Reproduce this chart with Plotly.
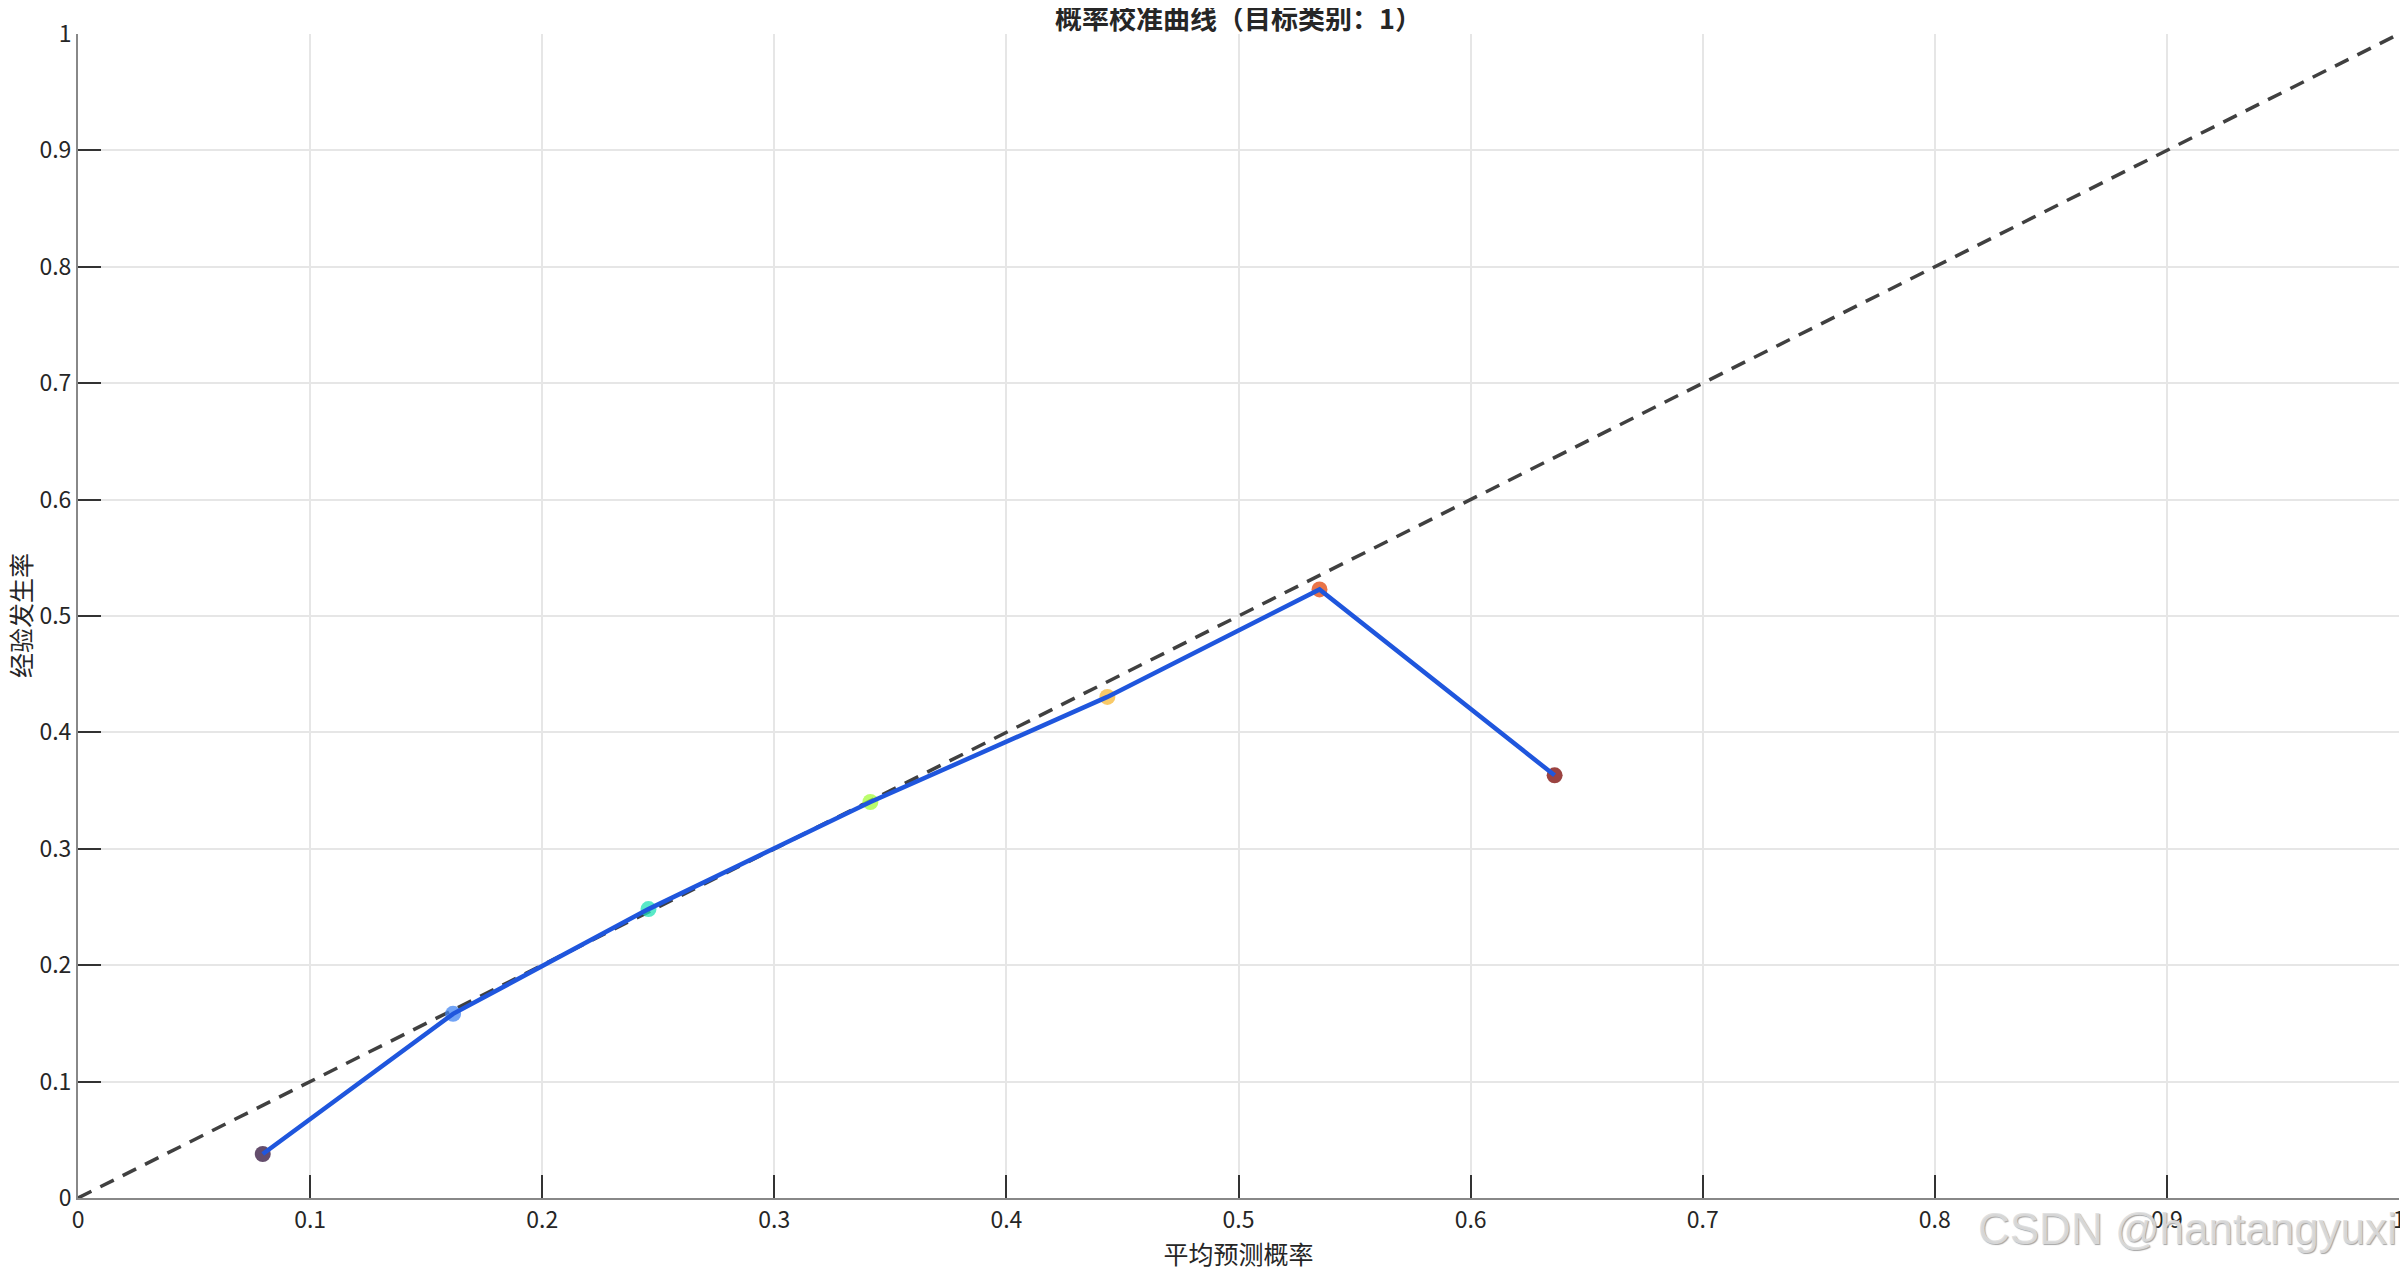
import plotly.graph_objects as go

# 校准曲线数据（分箱后的平均预测概率 / 经验发生率）
mean_pred = [0.0796, 0.1616, 0.2458, 0.3414, 0.4435, 0.5349, 0.6362]
frac_pos = [0.0378, 0.1582, 0.2482, 0.3402, 0.4305, 0.5228, 0.3631]
bin_idx = [0, 1, 2, 3, 4, 5, 6]

# 完美校准参考线
ref_x = [0, 1]
ref_y = [0, 1]

tick_vals = [0, 0.1, 0.2, 0.3, 0.4, 0.5, 0.6, 0.7, 0.8, 0.9, 1]
tick_text = ["0", "0.1", "0.2", "0.3", "0.4", "0.5", "0.6", "0.7", "0.8", "0.9", "1"]

FONT = "Noto Sans CJK SC"

fig = go.Figure()

# 参考虚线
fig.add_trace(go.Scatter(
    x=ref_x, y=ref_y,
    mode="lines",
    line=dict(color="#404040", width=3.5, dash="15px,10px"),
    showlegend=False,
))

# 散点（按箱序号着色）
fig.add_trace(go.Scatter(
    x=mean_pred, y=frac_pos,
    mode="markers",
    marker=dict(size=16, color=bin_idx, colorscale="Turbo", opacity=0.75),
    showlegend=False,
))

# 校准曲线
fig.add_trace(go.Scatter(
    x=mean_pred, y=frac_pos,
    mode="lines",
    line=dict(color="#1f56dd", width=4.5),
    showlegend=False,
))

axis_common = dict(
    range=[0, 1],
    tickvals=tick_vals,
    ticktext=tick_text,
    ticks="inside",
    ticklen=23,
    tickwidth=1.5,
    tickcolor="#333333",
    showgrid=True,
    gridcolor="#e6e6e6",
    gridwidth=1.5,
    zeroline=False,
    showline=True,
    linecolor="#888888",
    linewidth=2,
    ticklabeloverflow="allow",
    tickfont=dict(family=FONT, size=23, color="#262626"),
)

# 页面 body 自带 8px 边距，这里整体减掉
fig.update_layout(
    width=2400,
    height=1265,
    paper_bgcolor="white",
    plot_bgcolor="white",
    margin=dict(l=70, r=3, t=26, b=75),
    title=dict(
        text="<b>概率校准曲线（目标类别：1）</b>",
        x=0.5, xref="paper", xanchor="center",
        y=1 - 12 / 1265, yanchor="middle",
        font=dict(family=FONT, size=27, color="#262626"),
    ),
    xaxis=dict(
        axis_common,
        title=dict(text="平均预测概率", font=dict(family=FONT, size=25, color="#262626"), standoff=4),
    ),
    yaxis=dict(axis_common),
    annotations=[
        dict(
            text="经验发生率",
            xref="paper", yref="paper",
            x=0, y=0.5, xanchor="center", yanchor="middle",
            xshift=-58, textangle=-90,
            showarrow=False,
            font=dict(family=FONT, size=25, color="#262626"),
        ),
        dict(
            text="CSDN @hantangyuxi",
            xref="paper", yref="paper",
            x=1.0, y=-0.026, xanchor="right", yanchor="middle",
            showarrow=False,
            font=dict(family="Liberation Sans", size=44, color="rgba(222,222,222,0.9)",
                      shadow="1px 1px 1px #9a9a9a"),
        ),
    ],
)

fig.write_html("out.html")
